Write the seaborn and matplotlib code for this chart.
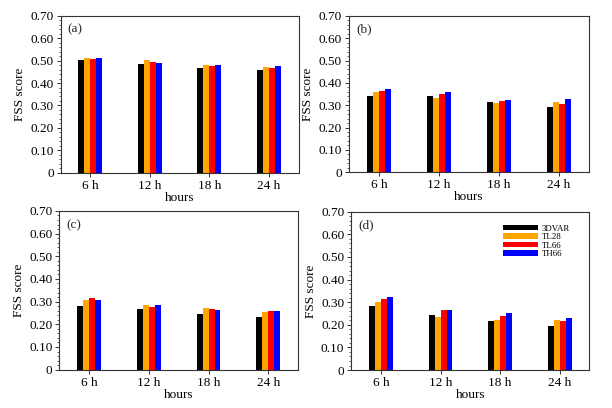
import pandas as pd
import numpy as np
import matplotlib
matplotlib.use("Agg")
import matplotlib.pyplot as plt
from matplotlib.ticker import MultipleLocator
import seaborn as sns

# data
hours = ["6 h", "12 h", "18 h", "24 h"]
schemes = ["3DVAR", "TL28", "TL66", "TH66"]
colors = ["#000000", "#FFA500", "#FF0000", "#0000FF"]

fss_a = {"3DVAR": [0.502, 0.484, 0.466, 0.459],
         "TL28":  [0.514, 0.504, 0.481, 0.471],
         "TL66":  [0.507, 0.495, 0.477, 0.468],
         "TH66":  [0.511, 0.490, 0.481, 0.474]}
fss_b = {"3DVAR": [0.343, 0.339, 0.313, 0.294],
         "TL28":  [0.358, 0.331, 0.310, 0.313],
         "TL66":  [0.364, 0.349, 0.318, 0.304],
         "TH66":  [0.372, 0.358, 0.325, 0.328]}
fss_c = {"3DVAR": [0.281, 0.266, 0.244, 0.231],
         "TL28":  [0.308, 0.286, 0.271, 0.256],
         "TL66":  [0.314, 0.278, 0.268, 0.259],
         "TH66":  [0.305, 0.283, 0.265, 0.259]}
fss_d = {"3DVAR": [0.282, 0.243, 0.215, 0.196],
         "TL28":  [0.303, 0.236, 0.221, 0.220],
         "TL66":  [0.313, 0.266, 0.237, 0.218],
         "TH66":  [0.325, 0.266, 0.252, 0.231]}

panels = [("(a)", fss_a), ("(b)", fss_b), ("(c)", fss_c), ("(d)", fss_d)]

sns.set_style("ticks")
plt.rcParams["font.family"] = ["Liberation Serif", "DejaVu Serif"]

fig = plt.figure(figsize=(6.12, 4.08), dpi=100)
boxes = [[0.099, 0.577, 0.389, 0.384],
         [0.570, 0.578, 0.392, 0.383],
         [0.097, 0.094, 0.390, 0.389],
         [0.574, 0.093, 0.389, 0.388]]

for (label, vals), box in zip(panels, boxes):
    ax = fig.add_axes(box)
    rows = []
    for s in schemes:
        for h, v in zip(hours, vals[s]):
            rows.append({"hours": h, "scheme": s, "fss": v})
    df = pd.DataFrame(rows)
    sns.barplot(data=df, x="hours", y="fss", hue="scheme", order=hours,
                hue_order=schemes, palette=colors, saturation=1, width=0.4,
                ax=ax, edgecolor="none", linewidth=0,
                legend=(label == "(d)"))
    ax.set_xlim(-0.5, 3.5)
    ax.set_ylim(0, 0.70)
    ax.yaxis.set_major_locator(MultipleLocator(0.10))
    ax.yaxis.set_minor_locator(MultipleLocator(0.02))
    ax.set_yticks(np.arange(0, 0.71, 0.10))
    ax.set_yticklabels(["0"] + ["%.2f" % t for t in np.arange(0.10, 0.71, 0.10)])
    ax.tick_params(axis="both", labelsize=9.5, length=3, width=0.7, pad=2,
                   color="#333333", labelcolor="black")
    ax.tick_params(axis="y", which="minor", length=1.5, width=0.5)
    ax.set_xlabel("hours", fontsize=9.5, labelpad=0, color="black")
    ax.set_ylabel("FSS score", fontsize=9.5, labelpad=3, color="black")
    for sp in ax.spines.values():
        sp.set_color("#333333")
        sp.set_linewidth(0.8)
    ax.text(0.03, 0.95, label, transform=ax.transAxes, fontsize=9.5,
            va="top", ha="left")
    if label == "(d)":
        leg = ax.legend(loc="upper right", bbox_to_anchor=(0.935, 0.94),
                        frameon=False, fontsize=6.4, handlelength=3.9,
                        handleheight=0.6, labelspacing=0.05,
                        handletextpad=0.5, borderaxespad=0)
        for t in leg.get_texts():
            t.set_color("black")

fig.savefig("out.png", dpi=100)
